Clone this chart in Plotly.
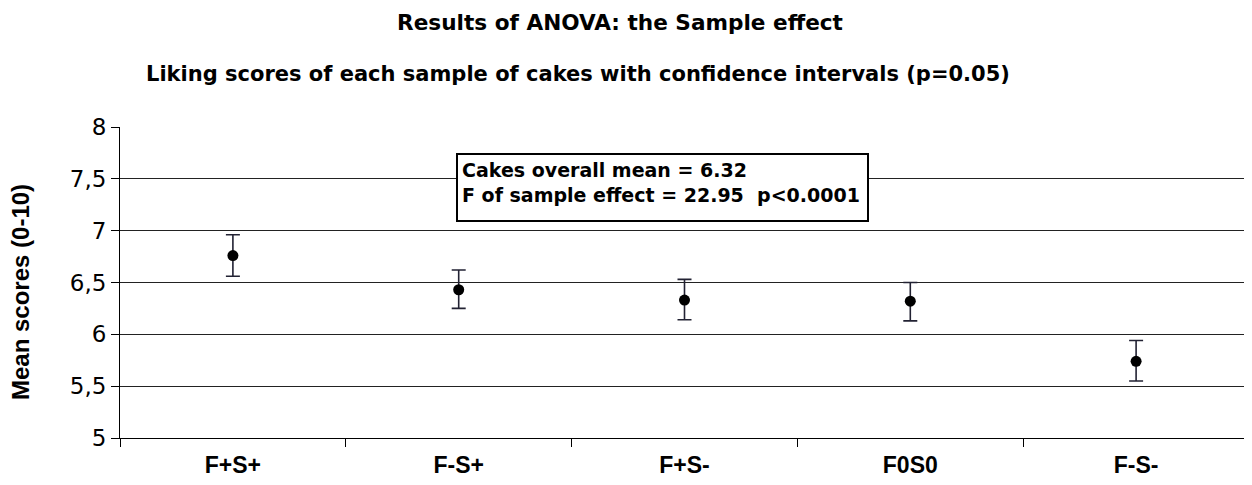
import plotly.graph_objects as go

# Liking scores per cake sample, with 95% confidence limits
samples = ['F+S+', 'F-S+', 'F+S-', 'F0S0', 'F-S-']
mean_scores = [6.76, 6.43, 6.33, 6.32, 5.74]
upper_ci = [6.96, 6.62, 6.53, 6.50, 5.94]
lower_ci = [6.56, 6.25, 6.14, 6.13, 5.55]

y_ticks = [5, 5.5, 6, 6.5, 7, 7.5, 8]
y_tick_labels = ['5', '5,5', '6', '6,5', '7', '7,5', '8']

err_plus = [u - m for u, m in zip(upper_ci, mean_scores)]
err_minus = [m - l for m, l in zip(mean_scores, lower_ci)]

arial = 'Liberation Sans, Arial, sans-serif'
wide = 'DejaVu Sans, Verdana, sans-serif'

# page body has an 8px margin, so the figure is a bit smaller than the window
W, H = 1244, 477
L, R, T, B = 112, 3, 119, 47
plot_w = W - L - R
plot_h = H - T - B

cat_range = [-0.5, len(samples) - 0.5]

fig = go.Figure()

fig.add_trace(go.Scatter(
    x=samples,
    y=mean_scores,
    mode='markers',
    marker=dict(color='black', size=11),
    error_y=dict(
        type='data',
        symmetric=False,
        array=err_plus,
        arrayminus=err_minus,
        color='#222233',
        thickness=1.6,
        width=7,
    ),
    showlegend=False,
))

# stats box
fig.add_annotation(
    x=(448 - L) / plot_w, y=(H - B - 145) / plot_h, xref='paper', yref='paper',
    xanchor='left', yanchor='top',
    text='<b>Cakes overall mean = 6.32<br>F of sample effect = 22.95  p&lt;0.0001</b>',
    align='left', valign='top',
    showarrow=False,
    font=dict(family=wide, size=19, color='black'),
    bordercolor='black', borderwidth=2, borderpad=4,
    bgcolor='white',
    width=401, height=57,
)

# subtitle
fig.add_annotation(
    x=(570 - L) / plot_w, y=(H - B - 66) / plot_h, xref='paper', yref='paper',
    xanchor='center', yanchor='middle',
    text='<b>Liking scores of each sample of cakes with confidence intervals (p=0.05)</b>',
    showarrow=False,
    font=dict(family=wide, size=21, color='black'),
)

# y axis title
fig.add_annotation(
    x=(12 - L) / plot_w, y=(H - B - 284) / plot_h, xref='paper', yref='paper',
    xanchor='center', yanchor='middle', textangle=-90,
    text='<b>Mean scores (0-10)</b>',
    showarrow=False,
    font=dict(family=arial, size=24, color='black'),
)

fig.update_layout(
    width=W,
    height=H,
    margin=dict(l=L, r=R, t=T, b=B),
    paper_bgcolor='white',
    plot_bgcolor='white',
    font=dict(family=arial, color='black'),
    title=dict(
        text='<b>Results of ANOVA: the Sample effect</b>',
        x=612 / W, xanchor='center', y=1 - 14 / H, yanchor='middle',
        font=dict(family=wide, size=21.6),
    ),
    xaxis=dict(
        type='category',
        range=cat_range,
        tickson='boundaries',
        ticks='outside', ticklen=8, tickcolor='black',
        showgrid=False,
        showline=True, linecolor='black', linewidth=1,
        tickfont=dict(size=23),
        tickprefix='<b>', ticksuffix='</b>',
        ticklabelstandoff=6,
        automargin=False,
    ),
    # short ticks poking up above the category axis
    xaxis2=dict(
        overlaying='x',
        range=cat_range,
        tickvals=[i + 0.5 for i in range(len(samples) - 1)],
        ticks='inside', ticklen=6, tickcolor='black',
        showticklabels=False, showgrid=False, zeroline=False,
        automargin=False,
    ),
    yaxis=dict(
        range=[5, 8],
        tickvals=y_ticks,
        ticktext=y_tick_labels,
        ticks='outside', ticklen=8, tickcolor='black',
        showgrid=True, gridcolor='#222222', gridwidth=1,
        showline=True, linecolor='black', linewidth=1, mirror=True,
        zeroline=False,
        tickfont=dict(family=wide, size=23),
        automargin=False,
    ),
)

fig.write_html('out.html')
